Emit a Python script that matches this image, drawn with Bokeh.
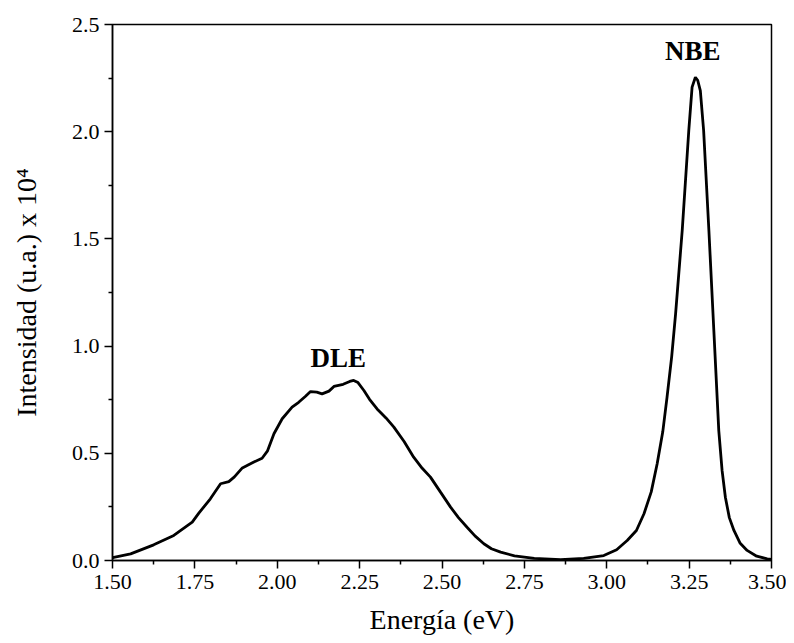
from bokeh.plotting import figure
from bokeh.models import FixedTicker, Range1d, Label
from bokeh.embed import file_html
from bokeh.resources import INLINE

energy = [1.500, 1.504, 1.555, 1.625, 1.686, 1.742, 1.762, 1.797, 1.828, 1.853,
          1.870, 1.894, 1.929, 1.954, 1.970, 1.990, 2.015, 2.045, 2.065, 2.085,
          2.101, 2.120, 2.136, 2.157, 2.172, 2.200, 2.220, 2.232, 2.245, 2.263,
          2.280, 2.303, 2.330, 2.354, 2.385, 2.414, 2.440, 2.465, 2.495, 2.526,
          2.550, 2.576, 2.600, 2.627, 2.650, 2.678, 2.720, 2.780, 2.860, 2.930,
          2.991, 3.030, 3.062, 3.090, 3.113, 3.135, 3.153, 3.170, 3.183, 3.197,
          3.209, 3.229, 3.249, 3.259, 3.269, 3.276, 3.284, 3.294, 3.310, 3.325,
          3.340, 3.350, 3.360, 3.372, 3.386, 3.405, 3.426, 3.455, 3.487, 3.500]
intensity = [0.012, 0.015, 0.031, 0.073, 0.117, 0.179, 0.221, 0.288, 0.358, 0.368,
             0.390, 0.432, 0.459, 0.477, 0.510, 0.591, 0.661, 0.715, 0.738, 0.765,
             0.788, 0.785, 0.777, 0.790, 0.812, 0.822, 0.835, 0.840, 0.830, 0.793,
             0.752, 0.707, 0.665, 0.622, 0.555, 0.482, 0.430, 0.389, 0.320, 0.249,
             0.200, 0.155, 0.115, 0.078, 0.055, 0.039, 0.022, 0.010, 0.004, 0.010,
             0.023, 0.050, 0.093, 0.140, 0.218, 0.320, 0.451, 0.600, 0.762, 0.950,
             1.151, 1.539, 2.006, 2.208, 2.254, 2.240, 2.192, 2.006, 1.539, 1.073,
             0.606, 0.420, 0.295, 0.200, 0.140, 0.080, 0.047, 0.020, 0.008, 0.005]

x_ticks = [1.50, 1.75, 2.00, 2.25, 2.50, 2.75, 3.00, 3.25, 3.50]
x_minor = [1.625, 1.875, 2.125, 2.375, 2.625, 2.875, 3.125, 3.375]
y_ticks = [0.0, 0.5, 1.0, 1.5, 2.0, 2.5]
y_minor = [0.25, 0.75, 1.25, 1.75, 2.25]

peak_labels = ["DLE", "NBE"]
peak_x = [2.185, 3.261]
peak_y = [0.945, 2.378]

FONT = "'Times New Roman', 'Liberation Serif', serif"

p = figure(width=786, height=635, frame_width=659, frame_height=536,
           output_backend="svg", toolbar_location=None,
           x_range=Range1d(1.5, 3.5), y_range=Range1d(0, 2.5),
           min_border_left=112, min_border_top=24, min_border_right=15,
           min_border_bottom=70)

p.line(energy, intensity, line_color="black", line_width=2.8)

for t, xx, yy in zip(peak_labels, peak_x, peak_y):
    p.add_layout(Label(x=xx, y=yy, text=t, text_font=FONT, text_font_size="27px",
                       text_font_style="bold", text_align="center",
                       text_baseline="alphabetic", text_color="black"))

p.grid.visible = False
p.outline_line_color = "black"
p.outline_line_width = 1.5
p.background_fill_color = "white"
p.border_fill_color = "white"

p.xaxis.ticker = FixedTicker(ticks=x_ticks, minor_ticks=x_minor)
p.yaxis.ticker = FixedTicker(ticks=y_ticks, minor_ticks=y_minor)
p.xaxis.major_label_overrides = {t: f"{t:.2f}" for t in x_ticks}
p.yaxis.major_label_overrides = {t: f"{t:.1f}" for t in y_ticks}

for ax in (p.xaxis[0], p.yaxis[0]):
    ax.axis_line_width = 1.5
    ax.axis_line_color = "black"
    ax.major_tick_line_width = 1.5
    ax.minor_tick_line_width = 1.5
    ax.major_tick_line_color = "black"
    ax.minor_tick_line_color = "black"
    ax.major_tick_out = 8
    ax.major_tick_in = 0
    ax.minor_tick_out = 4
    ax.minor_tick_in = 0
    ax.major_label_text_font = FONT
    ax.major_label_text_font_size = "22px"
    ax.major_label_text_color = "black"
    ax.axis_label_text_font = FONT
    ax.axis_label_text_font_size = "28px"
    ax.axis_label_text_font_style = "normal"
    ax.axis_label_text_color = "black"

p.xaxis.axis_label = "Energía (eV)"
p.yaxis.axis_label = "Intensidad (u.a.) x 10\u2074"
p.xaxis.major_label_standoff = 6
p.yaxis.major_label_standoff = 5
p.xaxis.axis_label_standoff = 12
p.yaxis.axis_label_standoff = 27

open("out.html", "w").write(file_html(p, INLINE))
